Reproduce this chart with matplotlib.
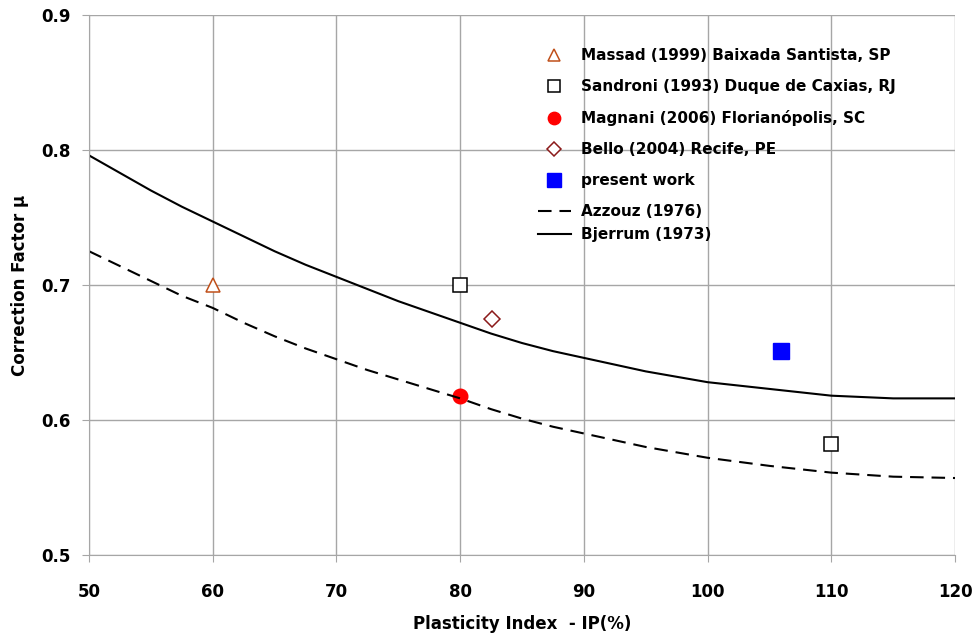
import matplotlib
matplotlib.use("Agg")
import matplotlib.pyplot as plt

# Bjerrum (1973) and Azzouz (1976) correction curves
curve_ip = [50, 52.5, 55, 57.5, 60, 62.5, 65, 67.5, 70, 72.5, 75, 77.5, 80, 82.5,
            85, 87.5, 90, 95, 100, 105, 110, 115, 120]
bjerrum_mu = [0.796, 0.783, 0.770, 0.758, 0.747, 0.736, 0.725, 0.715, 0.706, 0.697,
              0.688, 0.680, 0.672, 0.664, 0.657, 0.651, 0.646, 0.636, 0.628, 0.623,
              0.618, 0.616, 0.616]
azzouz_mu = [0.725, 0.714, 0.703, 0.692, 0.683, 0.672, 0.662, 0.653, 0.645, 0.637,
             0.630, 0.623, 0.616, 0.608, 0.601, 0.595, 0.590, 0.580, 0.572, 0.566,
             0.561, 0.558, 0.557]

# field cases
massad_ip, massad_mu = [60], [0.700]
sandroni_ip, sandroni_mu = [80, 110], [0.700, 0.582]
magnani_ip, magnani_mu = [80], [0.618]
bello_ip, bello_mu = [82.6], [0.675]
present_ip, present_mu = [105.9], [0.651]

x_ticks = [50, 60, 70, 80, 90, 100, 110, 120]
y_ticks = [0.5, 0.6, 0.7, 0.8, 0.9]

GRID = "#a6a6a6"

fig = plt.figure(figsize=(9.75, 6.43), dpi=100)
ax = fig.add_axes([0.0913, 0.1369, 0.8882, 0.8398])

h_massad, = ax.plot(massad_ip, massad_mu, ls="none", marker="^", ms=10.5, mfc="white",
                    mec="#c0501a", mew=1.1, label="Massad (1999) Baixada Santista, SP")
h_sandroni, = ax.plot(sandroni_ip, sandroni_mu, ls="none", marker="s", ms=10, mfc="white",
                      mec="black", mew=1.1, label="Sandroni (1993) Duque de Caxias, RJ")
h_magnani, = ax.plot(magnani_ip, magnani_mu, ls="none", marker="o", ms=10.5, mfc="#ff0000",
                     mec="#ff0000", label="Magnani (2006) Florianópolis, SC")
h_bello, = ax.plot(bello_ip, bello_mu, ls="none", marker="D", ms=8, mfc="white",
                   mec="#8b1a1a", mew=1.1, label="Bello (2004) Recife, PE")
h_present, = ax.plot(present_ip, present_mu, ls="none", marker="s", ms=12, mfc="#0000ff",
                     mec="#0000ff", label="present work")
h_azzouz, = ax.plot(curve_ip, azzouz_mu, color="black", lw=1.5, dashes=(6.5, 3.8),
                    label="Azzouz (1976)")
h_bjerrum, = ax.plot(curve_ip, bjerrum_mu, color="black", lw=1.5, label="Bjerrum (1973)")

ax.set_xlim(50, 120)
ax.set_ylim(0.5, 0.9)
ax.set_xticks(x_ticks)
ax.set_yticks(y_ticks)
ax.set_xticklabels([str(v) for v in x_ticks], fontsize=12, fontweight="bold")
ax.set_yticklabels([f"{v:.1f}" for v in y_ticks], fontsize=12, fontweight="bold")
ax.tick_params(direction="out", length=5, color=GRID)
ax.tick_params(axis="x", pad=15)
ax.tick_params(axis="y", pad=8)
ax.grid(True, color=GRID, lw=1)
ax.set_axisbelow(True)
for side in ["left", "bottom"]:
    ax.spines[side].set_color(GRID)
for side in ["top", "right"]:
    ax.spines[side].set_visible(False)

ax.set_xlabel("Plasticity Index  - IP(%)", fontsize=12, fontweight="bold",
              labelpad=10)
ax.set_ylabel("Correction Factor μ", fontsize=12, fontweight="bold",
              labelpad=9)

leg_kw = dict(frameon=False, prop={"weight": "bold", "size": 11}, handlelength=2.2,
              handletextpad=0.65, borderaxespad=0, borderpad=0, markerscale=0.85)
leg1 = ax.legend(handles=[h_massad, h_sandroni, h_magnani, h_bello, h_present, h_azzouz],
                 loc="upper left", bbox_to_anchor=(0.518, 0.938), labelspacing=1.04,
                 **leg_kw)
ax.add_artist(leg1)
ax.legend(handles=[h_bjerrum], loc="upper left", bbox_to_anchor=(0.518, 0.607),
          **leg_kw)

plt.savefig("out.png", dpi=100)
plt.close()
